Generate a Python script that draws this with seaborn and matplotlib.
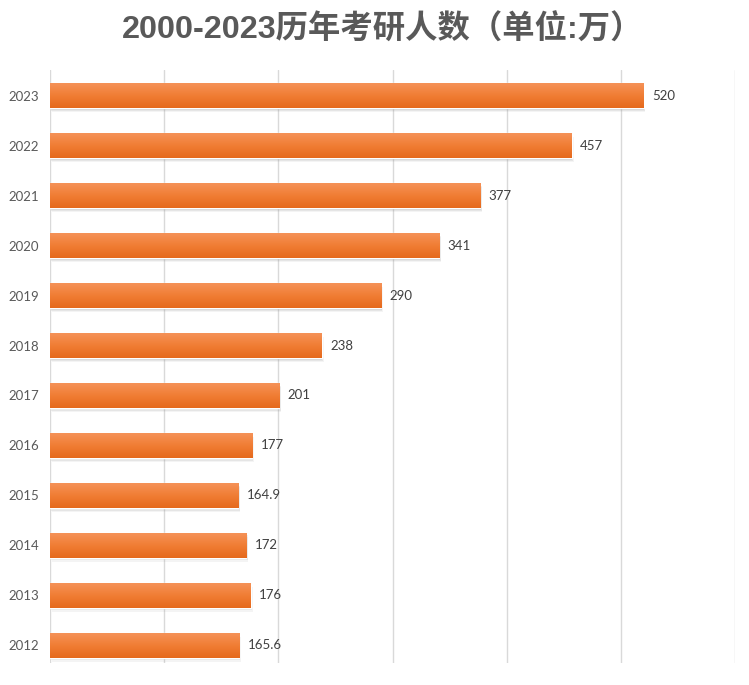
import numpy as np
import pandas as pd
import matplotlib
matplotlib.use("Agg")
import matplotlib.pyplot as plt
import seaborn as sns
from matplotlib.colors import LinearSegmentedColormap
from matplotlib.patches import Rectangle

years = ["2023", "2022", "2021", "2020", "2019", "2018", "2017", "2016", "2015", "2014", "2013", "2012"]
values = [520, 457, 377, 341, 290, 238, 201, 177, 164.9, 172, 176, 165.6]
title = "2000-2023历年考研人数（单位:万）"

sns.set_theme(style="white")
plt.rcParams['font.family'] = ['Lato', 'Noto Sans CJK SC', 'DejaVu Sans']

df = pd.DataFrame({"year": years, "value": values})

fig = plt.figure(figsize=(7.49, 6.85), dpi=100)
ax = fig.add_axes([50/749, 1 - 663/685, 685/749, 593/685])

sns.barplot(data=df, x="value", y="year", order=years, orient="h",
            color="#ED7D31", width=0.5, ax=ax, saturation=1)

ax.set_xlim(0, 600)
ax.set_ylim(11.36, -0.52)
ax.set_xticks(np.arange(0, 601, 100))
ax.xaxis.grid(True, color="#D9D9D9", linewidth=1)
ax.set_axisbelow(True)
for s in ax.spines.values():
    s.set_visible(False)
ax.tick_params(axis="x", labelbottom=False, length=0)
ax.tick_params(axis="y", length=0, pad=8, labelsize=9.5, labelcolor="#595959")
ax.set_xlabel("")
ax.set_ylabel("")

cmap = LinearSegmentedColormap.from_list("og", ["#F59258", "#F07D34", "#E5691C"])
grad = np.linspace(0, 1, 64).reshape(-1, 1)
cont = ax.containers[0]
for p in cont.patches:
    x0, y0 = p.get_x(), p.get_y()
    w, h = p.get_width(), p.get_height()
    # soft shadow
    for k, a in [(1.6, 0.08), (1.1, 0.12), (0.6, 0.18)]:
        sh = Rectangle((x0 + 1.0 * k, y0 + 0.05 * k), w, h, facecolor="#7F7F7F",
                       edgecolor="none", alpha=a, zorder=1.5)
        ax.add_patch(sh)
    p.set_zorder(2)
    im = ax.imshow(grad, cmap=cmap, aspect="auto",
                   extent=[x0, x0 + w, y0 + h, y0], zorder=2.5,
                   interpolation="bilinear")
    im.set_clip_path(p)

ax.set_xlim(0, 600)
ax.set_ylim(11.36, -0.52)

ax.bar_label(cont, labels=[f"{v:g}" for v in values], padding=6,
             fontsize=9.5, color="#404040")

fig.text(0.5 + 8/749, 1 - 30/685, title, ha="center", va="center",
         fontsize=23.3, fontweight="bold", color="#595959",
         family=['Liberation Sans', 'Noto Sans CJK SC', 'DejaVu Sans'])

fig.savefig("out.png", dpi=100)
